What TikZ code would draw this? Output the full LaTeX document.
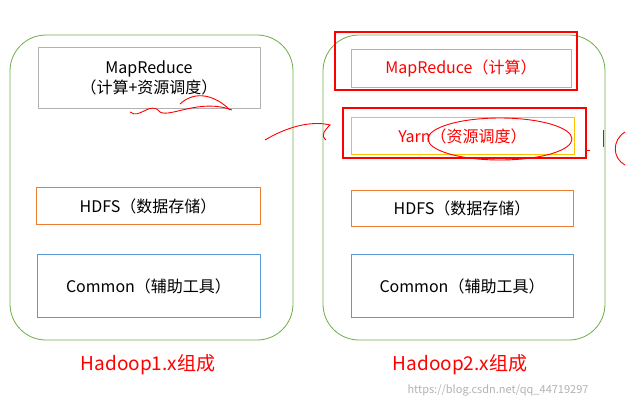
\documentclass[tikz,border=0pt]{standalone}
\usepackage{fontspec}
\setmainfont{Noto Sans CJK SC}
\definecolor{gr}{RGB}{112,173,71}
\definecolor{bl}{RGB}{91,155,213}
\definecolor{orn}{RGB}{237,125,49}
\definecolor{yel}{RGB}{255,192,0}
\begin{document}
\begin{tikzpicture}[x=1pt,y=-1pt,
  outer/.style={draw=gr, line width=0.8pt, rounded corners=36pt},
  box/.style={draw=#1, line width=0.7pt, fill=white, font=\fontsize{16}{20}\selectfont, align=center, inner sep=0pt},
  redbox/.style={draw=red, line width=1.3pt},
  scrib/.style={draw=red, line width=0.9pt},
  captext/.style={text=red, font=\fontsize{19}{22}\selectfont}]
\useasboundingbox (0,0) rectangle (628,408);
\draw[outer] (10,35) rectangle (293,340);
\draw[outer] (323,35) rectangle (605,340);
% left
\node[box=gray!60, minimum width=222pt, minimum height=61pt] (mr1) at (149,78) {MapReduce\\（计算+资源调度）};
\node[box=orn, minimum width=224pt, minimum height=37pt] (hd1) at (148,206) {HDFS（数据存储）};
\node[box=bl, minimum width=223pt, minimum height=63pt] (cm1) at (148.5,286) {Common（辅助工具）};
% right
\node[box=gray!60, minimum width=220pt, minimum height=38pt, text=red] (mr2) at (461,68) {MapReduce（计算）};
\node[box=yel, minimum width=223pt, minimum height=37pt, text=red] (yr) at (462.5,136) {Yarn（资源调度）};
\node[box=orn, minimum width=222pt, minimum height=36pt] (hd2) at (462,208) {HDFS（数据存储）};
\node[box=bl, minimum width=222pt, minimum height=63pt] (cm2) at (462,286) {Common（辅助工具）};
\draw[redbox] (335,32) rectangle (577,90);
\draw[redbox] (343,108) rectangle (586,158);
% scribbles
\draw[scrib] (130,112) .. controls (140,120) and (150,100) .. (160,112) .. controls (170,118) and (200,98) .. (232,110);
\draw[scrib] (180,104) .. controls (195,90) and (215,95) .. (230,110);
\draw[scrib] (265,140) .. controls (285,128) and (310,120) .. (330,125) .. controls (325,130) and (320,135) .. (326,140);
\draw[scrib] (500,139) ellipse (72pt and 21pt);
\draw[scrib] (586,150) -- (590,150);
\draw[scrib] (603,130) -- (603,147);
\draw[scrib] (625,132) .. controls (612,140) and (612,158) .. (625,165);
\node[captext] (c1) at (148,365) {Hadoop1.x组成};
\node[captext] (c2) at (460,365) {Hadoop2.x组成};
\node[text=gray!60, font=\fontsize{11}{13}\selectfont] (wm) at (498,390) {https://blog.csdn.net/qq\_44719297};
\end{tikzpicture}
\end{document}
